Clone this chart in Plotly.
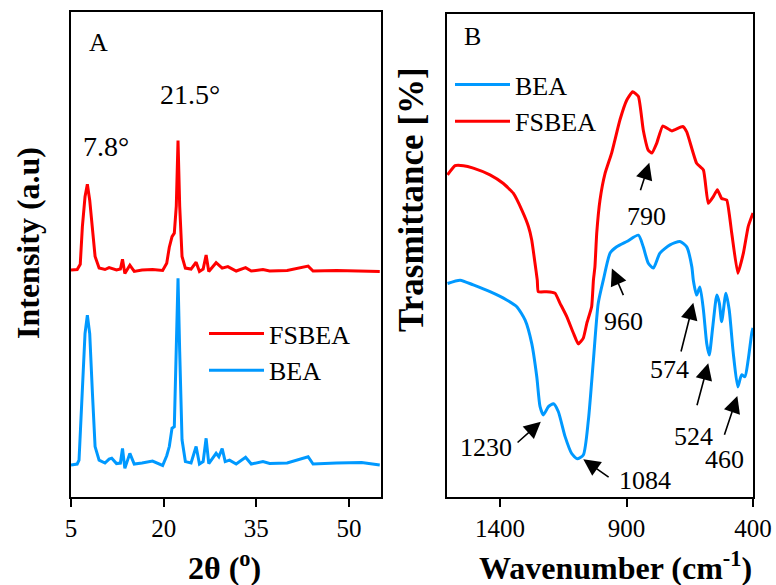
import plotly.graph_objects as go

# ---------------- Panel A: XRD ----------------
xrd_2theta_fsbea = [5.0, 6.0, 6.5, 6.84, 7.27, 7.65, 8.03, 8.47, 8.9, 9.55, 10.5, 11.17, 12.37, 13.0,
                    13.34, 13.72, 14.2, 14.53, 15.24, 16.5, 18.2, 19.84, 20.5, 20.92, 21.36, 21.73,
                    22.05, 22.33, 22.6, 22.98, 23.52, 24.44, 25.26, 25.8, 26.4, 26.88, 27.31, 28.5,
                    29.48, 30.4, 31.75, 33.27, 34.19, 36.08, 37.17, 40.0, 43.4, 44.2, 48.0, 52.0, 55.0]
xrd_int_fsbea = [46.8, 46.9, 48.0, 55.7, 61.9, 64.5, 61.2, 54.4, 49.6, 47.2, 46.9, 47.3, 46.8, 47.0,
                 49.0, 46.1, 47.2, 47.8, 46.5, 46.8, 46.9, 46.7, 48.2, 51.5, 53.7, 54.4,
                 60.0, 73.5, 60.0, 49.6, 47.2, 47.0, 48.4, 46.5, 47.0, 49.9, 46.5, 48.3,
                 47.2, 47.5, 46.6, 47.3, 46.6, 46.9, 46.6, 46.7, 47.6, 46.6, 46.7, 46.6, 46.5]

xrd_2theta_bea = [5.0, 6.0, 6.3, 6.84, 7.27, 7.65, 8.03, 8.47, 8.9, 9.55, 10.5, 11.17, 11.6, 12.37,
                  13.0, 13.34, 13.72, 14.53, 15.24, 16.5, 18.2, 19.84, 20.5, 20.92, 21.36, 21.73,
                  22.05, 22.33, 22.6, 22.98, 23.52, 24.44, 25.26, 25.8, 26.4, 26.88, 27.31, 28.5,
                  28.94, 29.48, 29.97, 30.67, 31.75, 33.27, 34.19, 36.08, 37.17, 40.0, 43.4, 44.2,
                  48.0, 52.06, 55.0]
xrd_int_bea = [6.6, 6.8, 7.6, 21.4, 33.7, 37.5, 33.7, 21.4, 10.4, 7.6, 7.0, 7.8, 8.0, 6.9,
               7.0, 10.0, 5.9, 9.0, 6.8, 7.0, 7.4, 6.5, 8.5, 10.4, 14.2, 14.5,
               30.0, 45.1, 30.0, 11.8, 7.3, 7.0, 10.4, 6.8, 7.3, 12.1, 6.9, 9.0,
               8.3, 10.0, 7.3, 7.6, 6.8, 8.2, 6.8, 7.3, 6.9, 7.0, 8.3, 6.8,
               7.0, 7.1, 6.6]

xrd_ticks = [5, 20, 35, 50]

# ---------------- Panel B: FTIR ----------------
ftir_wn_fsbea = [1608, 1578, 1545, 1506, 1440, 1387, 1348, 1314, 1288, 1275, 1262, 1253, 1249, 1216,
                 1183, 1163, 1136, 1110, 1091, 1071, 1057, 1038, 1031, 1025, 1018, 1005, 985, 959,
                 926, 899, 876, 853, 834, 814, 800, 781, 757, 721, 678, 662, 623, 596, 577, 557,
                 541, 524, 504, 484, 460, 438, 419, 400]
ftir_t_fsbea = [66.7, 68.6, 68.6, 68.1, 66.7, 64.9, 62.9, 59.4, 56.0, 53.2, 48.4, 44.9, 42.5, 42.5,
                42.2, 40.1, 37.3, 33.9, 31.7, 32.9, 36.0, 39.4, 44.9, 47.7, 54.6, 61.5, 67.0, 71.2,
                78.1, 82.2, 83.9, 82.9, 76.0, 71.8, 71.2, 73.2, 76.8, 75.8, 76.7, 75.6, 69.1, 67.7,
                60.8, 62.2, 63.6, 61.8, 61.5, 54.6, 46.3, 50.5, 56.0, 58.8]

ftir_wn_bea = [1608, 1558, 1506, 1440, 1374, 1334, 1301, 1275, 1255, 1242, 1229, 1209, 1189, 1170,
               1143, 1117, 1095, 1071, 1051, 1031, 1012, 992, 965, 939, 899, 853, 834, 814, 794,
               768, 728, 689, 662, 642, 636, 623, 610, 596, 583, 573, 559, 543, 533, 524, 507,
               494, 478, 460, 445, 432, 419, 405, 400]
ftir_t_bea = [44.2, 44.9, 43.9, 42.5, 40.8, 39.4, 36.6, 31.8, 24.9, 18.7, 17.0, 18.7, 19.3, 17.7,
              12.5, 9.0, 7.9, 8.7, 15.9, 28.4, 40.1, 44.9, 50.5, 51.8, 52.9, 54.2, 51.8, 48.4, 47.4,
              50.5, 52.2, 52.9, 51.8, 47.7, 44.9, 41.8, 43.5, 38.7, 31.8, 29.4, 35.3, 41.8, 40.1, 36.3, 42.2,
              38.7, 29.8, 22.8, 25.3, 24.9, 28.4, 33.9, 35.0]

ftir_ticks = [1400, 900, 400]

# Peak labels in panel B: (label, head wn, head T, tail wn, tail T, text wn, text T)
ftir_labels = ["790", "960", "1230", "1084", "574", "524", "460"]
ftir_head_wn = [810, 958, 1239, 1071, 636, 577, 462]
ftir_head_t = [69.2, 47.3, 15.6, 7.8, 40.2, 27.7, 20.9]
ftir_tail_wn = [847, 910, 1337, 965, 686, 623, 515]
ftir_tail_t = [63.2, 41.5, 11.0, 3.9, 29.8, 18.7, 12.6]
ftir_text_wn = [820, 913, 1455, 827, 731, 636, 511]
ftir_text_t = [58.0, 36.3, 10.3, 3.5, 26.3, 12.6, 7.7]

RED = "#FF0000"
BLUE = "#0099FF"
FONT = "Liberation Serif"

W, H = 776, 585


def px_x(p):
    return p / W


def px_y(p):
    return (H - p) / H


fig = go.Figure()

fig.add_trace(go.Scatter(x=xrd_2theta_fsbea, y=xrd_int_fsbea, mode="lines", name="FSBEA",
                         line=dict(color=RED, width=3), xaxis="x", yaxis="y", legend="legend"))
fig.add_trace(go.Scatter(x=xrd_2theta_bea, y=xrd_int_bea, mode="lines", name="BEA",
                         line=dict(color=BLUE, width=3), xaxis="x", yaxis="y", legend="legend"))
fig.add_trace(go.Scatter(x=ftir_wn_bea, y=ftir_t_bea, mode="lines", name="BEA",
                         line=dict(color=BLUE, width=3, shape="spline", smoothing=0.6),
                         xaxis="x2", yaxis="y2", legend="legend2"))
fig.add_trace(go.Scatter(x=ftir_wn_fsbea, y=ftir_t_fsbea, mode="lines", name="FSBEA",
                         line=dict(color=RED, width=3, shape="spline", smoothing=0.4),
                         xaxis="x2", yaxis="y2", legend="legend2"))

axis_common = dict(showline=True, mirror=True, linecolor="black", linewidth=2,
                   showgrid=False, zeroline=False, automargin=False)

fig.update_layout(
    template="none",
    width=W, height=H, autosize=False,
    margin=dict(l=0, r=0, t=0, b=0, pad=0, autoexpand=False),
    paper_bgcolor="white", plot_bgcolor="white",
    font=dict(family=FONT, size=25, color="black"),
    xaxis=dict(domain=[px_x(71), px_x(381)], range=[5, 55.2], tickvals=xrd_ticks,
               ticks="outside", ticklen=8, tickwidth=2, tickcolor="black",
               tickfont=dict(family=FONT, size=25), anchor="y", **axis_common),
    yaxis=dict(domain=[px_y(497), px_y(12)], range=[0, 100], showticklabels=False,
               ticks="", anchor="x", **axis_common),
    xaxis2=dict(domain=[px_x(447), px_x(753)], range=[1610, 400], tickvals=ftir_ticks,
                ticks="outside", ticklen=8, tickwidth=2, tickcolor="black",
                tickfont=dict(family=FONT, size=25), anchor="y2", **axis_common),
    yaxis2=dict(domain=[px_y(497), px_y(14)], range=[0, 100], showticklabels=False,
                ticks="", anchor="x2", **axis_common),
    legend=dict(x=px_x(204), y=px_y(310), xanchor="left", yanchor="top",
                bgcolor="rgba(0,0,0,0)", font=dict(family=FONT, size=26),
                itemwidth=55, tracegroupgap=0, borderwidth=0),
    legend2=dict(x=px_x(450), y=px_y(61), xanchor="left", yanchor="top",
                 bgcolor="rgba(0,0,0,0)", font=dict(family=FONT, size=26),
                 itemwidth=55, tracegroupgap=0, borderwidth=0),
    showlegend=True,
)

annotations = []
# Panel letters and peak labels
annotations.append(dict(x=9.4, y=93.7, xref="x", yref="y", text="A", showarrow=False,
                        font=dict(family=FONT, size=26)))
annotations.append(dict(x=10.6, y=72.2, xref="x", yref="y", text="7.8°", showarrow=False,
                        font=dict(family=FONT, size=28)))
annotations.append(dict(x=24.2, y=82.9, xref="x", yref="y", text="21.5°", showarrow=False,
                        font=dict(family=FONT, size=28)))
annotations.append(dict(x=1508, y=95.3, xref="x2", yref="y2", text="B", showarrow=False,
                        font=dict(family=FONT, size=26)))

for i, lab in enumerate(ftir_labels):
    annotations.append(dict(x=ftir_head_wn[i], y=ftir_head_t[i], xref="x2", yref="y2",
                            ax=ftir_tail_wn[i], ay=ftir_tail_t[i], axref="x2", ayref="y2",
                            text="", showarrow=True, arrowhead=2, arrowsize=2.1,
                            arrowwidth=1.6, arrowcolor="black"))
    annotations.append(dict(x=ftir_text_wn[i], y=ftir_text_t[i], xref="x2", yref="y2",
                            text=lab, showarrow=False, font=dict(family=FONT, size=26)))

# Axis titles
title_common = dict(xref="paper", yref="paper", showarrow=False, xanchor="center",
                    yanchor="middle")
annotations.append(dict(x=px_x(224.5), y=px_y(566), text="<b>2θ (<sup>o</sup>)</b>",
                        font=dict(family=FONT, size=32), **title_common))
annotations.append(dict(x=px_x(615.7), y=px_y(566), text="<b>Wavenumber (cm<sup>-1</sup>)</b>",
                        font=dict(family=FONT, size=32), **title_common))
annotations.append(dict(x=px_x(28), y=px_y(243), text="<b>Intensity (a.u)</b>", textangle=-90,
                        font=dict(family=FONT, size=32), **title_common))
annotations.append(dict(x=px_x(411), y=px_y(200), text="<b>Trasmittance [%]</b>", textangle=-90,
                        font=dict(family=FONT, size=35), **title_common))

fig.update_layout(annotations=annotations)

fig.write_html("out.html",
               config={"displayModeBar": False, "responsive": False},
               post_script="document.body.style.margin='0';document.body.style.overflow='hidden';")
